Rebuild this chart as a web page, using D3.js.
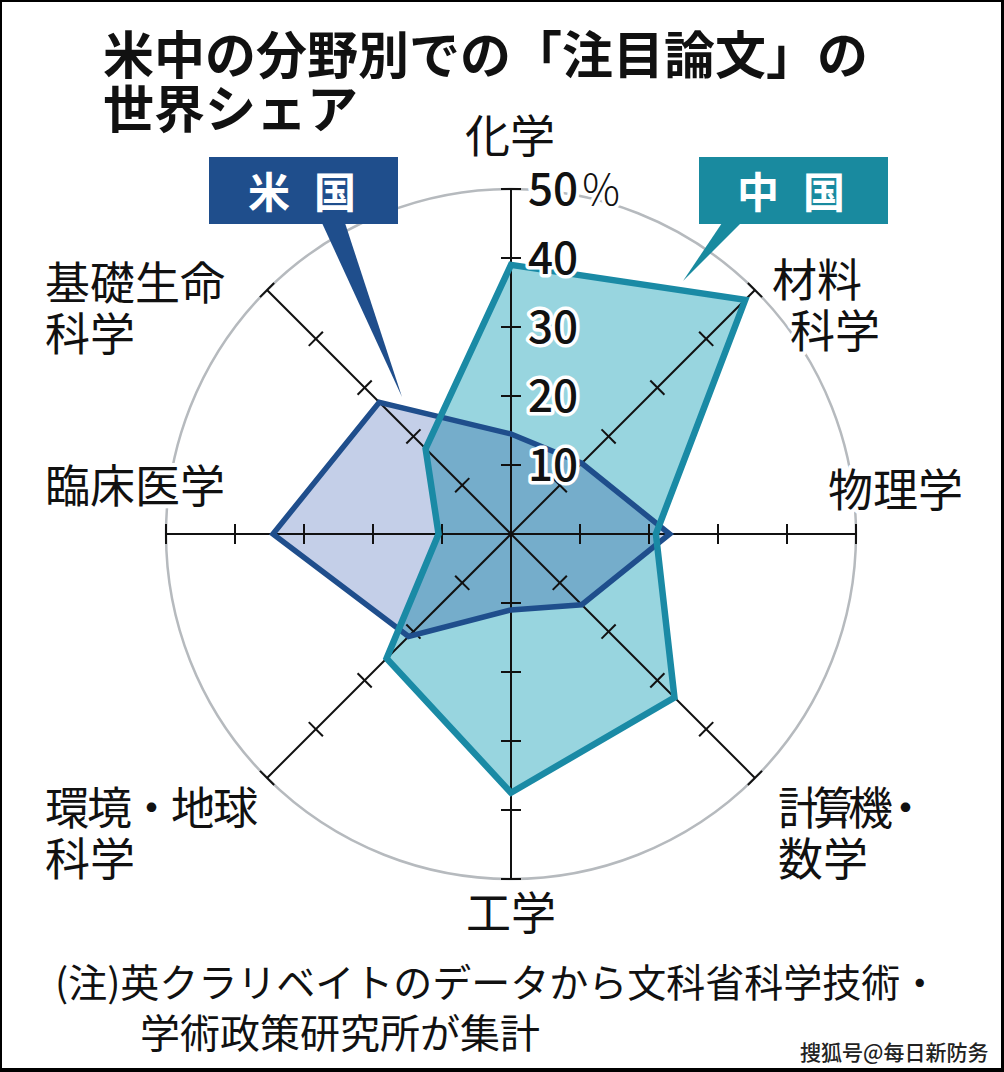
<!DOCTYPE html>
<html><head><meta charset="utf-8">
<script src="https://cdn.jsdelivr.net/npm/d3@7"></script>
<style>
html,body{margin:0;padding:0;background:#000;}
svg{display:block;}
text{font-family:"Noto Sans CJK JP","Noto Sans",sans-serif;}
</style></head>
<body>
<svg id="chart" width="1004" height="1072"></svg>
<script>
// ---- data ----
const categories = ["化学","材料科学","物理学","計算機・数学","工学","環境・地球科学","臨床医学","基礎生命科学"];
const chinaValues = [39, 48, 21, 33.5, 37.5, 25.5, 10.5, 17.5];
const usValues    = [14.5, 14.5, 23, 14.5, 11, 21, 34.5, 27];
const tickValues  = [10, 20, 30, 40, 50];
const tickLabels  = ["10","20","30","40","50"];
const seriesNames = ["米国","中国"];
const titleLines  = ["米中の分野別での「注目論文」の","世界シェア"];
const noteLines   = ["(注)英クラリベイトのデータから文科省科学技術・","学術政策研究所が集計"];
// category label lines (display)
const labelLines = [["化学"],["材料","科学"],["物理学"],["計算機・","数学"],["工学"],["環境・地球","科学"],["臨床医学"],["基礎生命","科学"]];

const svg = d3.select("#chart");
// frame
svg.append("rect").attr("x",2).attr("y",2).attr("width",999).attr("height",1066).attr("fill","#fff");

const cx = 511, cy = 534, R = 345;
const r = d3.scaleLinear().domain([0,50]).range([0,R]);
const step = 2*Math.PI/categories.length;
const ang = (i) => i*step;

const g = svg.append("g").attr("transform",`translate(${cx},${cy})`);

// outer gray circle
g.append("circle").attr("r", r(50)).attr("fill","none").attr("stroke","#b6babe").attr("stroke-width",2.5);

const radial = d3.lineRadial().angle((d,i)=>ang(i)).radius(d=>r(d)).curve(d3.curveLinearClosed);

const usColor = "#1f4e8c", usFill = "#c4cfe8";
const cnColor = "#1a8aa5", cnFill = "#98d5df";

// fills
const fills = g.append("g").style("isolation","isolate");
fills.append("path").attr("d", radial(usValues)).attr("fill", usFill);
fills.append("path").attr("d", radial(chinaValues)).attr("fill", cnFill).style("mix-blend-mode","multiply");

// axes with ticks
const axes = g.append("g");
categories.forEach((c,i)=>{
  const a = ang(i);
  const ax = axes.append("g").attr("transform",`rotate(${a*180/Math.PI})`);
  ax.append("line").attr("x1",0).attr("y1",0).attr("x2",0).attr("y2",-r(50))
    .attr("stroke","#111").attr("stroke-width",2);
  ax.selectAll("line.t").data(tickValues).join("line").attr("class","t")
    .attr("x1",-10).attr("x2",10).attr("y1",d=>-r(d)).attr("y2",d=>-r(d))
    .attr("stroke","#111").attr("stroke-width",2);
});

// strokes
g.append("path").attr("d", radial(usValues)).attr("fill","none").attr("stroke",usColor).attr("stroke-width",5.5).attr("stroke-linejoin","miter");
g.append("path").attr("d", radial(chinaValues)).attr("fill","none").attr("stroke",cnColor).attr("stroke-width",6.5).attr("stroke-linejoin","miter");

// tick labels on top axis
const tl = g.append("g");
tickValues.forEach((v,i)=>{
  const t = tl.append("text").attr("x",17).attr("y",-r(v)).attr("dy","0.36em")
    .attr("font-size",44).attr("font-weight",500).attr("fill","#111")
    .attr("stroke","#fff").attr("stroke-width",7).attr("stroke-linejoin","round")
    .style("paint-order","stroke");
  t.append("tspan").text(tickLabels[i]);
  if (v===50) t.append("tspan").attr("dx",4).attr("font-weight",300).attr("font-size",42).text("%");
});

// category labels
const labelPos = [
  {x:510,y:153,anchor:"middle"},
  {x:772,y:297,anchor:"start",x2:790},
  {x:828,y:507,anchor:"start"},
  {x:778,y:825,anchor:"start",len:[150]},
  {x:511,y:930,anchor:"middle"},
  {x:45,y:825,anchor:"start",len:[213]},
  {x:45,y:503,anchor:"start"},
  {x:45,y:300,anchor:"start"}
];
categories.forEach((c,i)=>{
  const p = labelPos[i];
  labelLines[i].forEach((ln,j)=>{
    const t = svg.append("text").attr("text-anchor",p.anchor).attr("font-size",45).attr("fill","#111")
      .attr("stroke","#fff").attr("stroke-width",8).attr("stroke-linejoin","round").style("paint-order","stroke")
      .attr("x", j>0 && p.x2 ? p.x2 : p.x).attr("y", p.y + j*51).text(ln);
    if (p.len && p.len[j]) t.attr("textLength",p.len[j]).attr("lengthAdjust","spacing");
  });
});

// callouts
function callout(x,y,w,h,tri,color,label,tx){
  svg.append("path").attr("d",d3.line()(tri)+"Z").attr("fill",color);
  svg.append("rect").attr("x",x).attr("y",y).attr("width",w).attr("height",h).attr("fill",color);
  svg.append("text").attr("x",tx).attr("y",y+51).attr("font-size",42).attr("font-weight",700)
    .attr("fill","#fff").attr("letter-spacing",24).text(label);
}
callout(209,157,189,67,[[322,223],[345,223],[402,397]],usColor,seriesNames[0],248);
callout(699,157,189,67,[[722,223],[741,223],[683,281]],"#198a9f",seriesNames[1],737);

// title
titleLines.forEach((ln,i)=>{
  svg.append("text").attr("x",103).attr("y",74+i*54).attr("font-size",51).attr("font-weight",700)
    .attr("fill","#111").text(ln);
});

// note
svg.append("text").attr("x",55).attr("y",997).attr("font-size",39).attr("fill","#111").text(noteLines[0]);
svg.append("text").attr("x",140).attr("y",1048).attr("font-size",40).attr("fill","#111").text(noteLines[1]);

// watermark
svg.append("text").attr("x",800).attr("y",1060).attr("font-size",21).attr("font-weight",500)
  .attr("fill","#222").attr("stroke","#fff").attr("stroke-width",3).style("paint-order","stroke")
  .text("搜狐号@每日新防务");
</script>
</body></html>
